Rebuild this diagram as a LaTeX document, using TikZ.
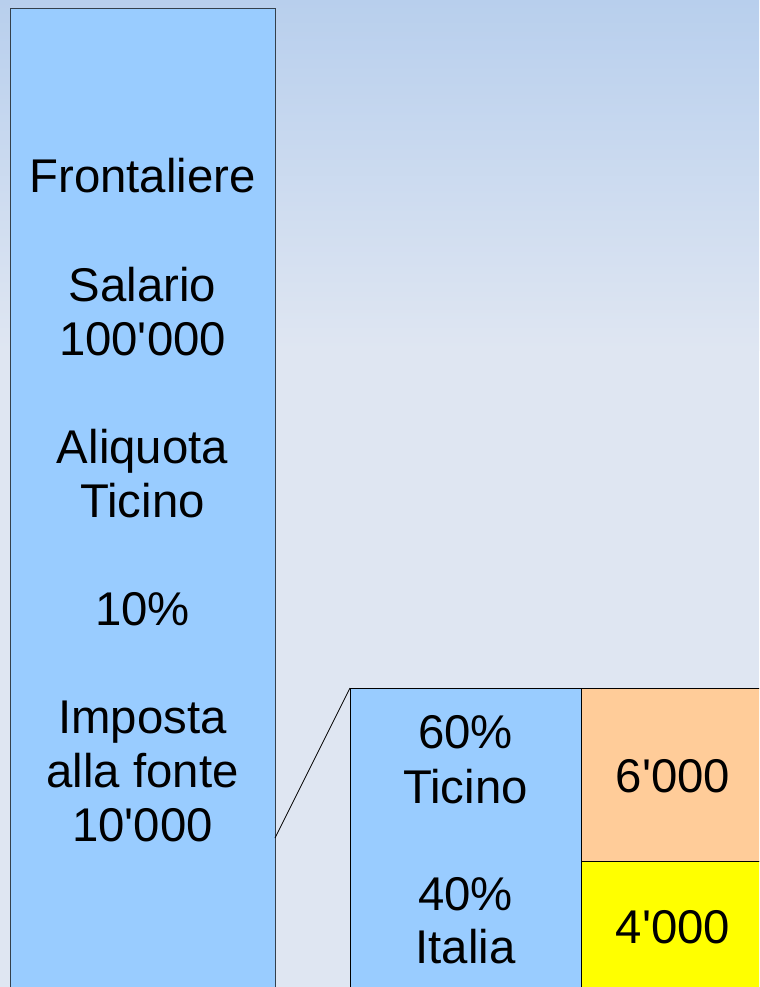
\documentclass[tikz,border=0pt]{standalone}
\usepackage{fontspec}
\setmainfont{Liberation Sans}[Ligatures=TeXOff]
\usetikzlibrary{positioning}
\definecolor{bgtop}{HTML}{B8CFED}
\definecolor{bgbot}{HTML}{DFE6F2}
\definecolor{boxblue}{HTML}{99CCFF}
\definecolor{boxorange}{HTML}{FFCC99}
\definecolor{boxyellow}{HTML}{FFFF00}
\definecolor{edgegray}{HTML}{34404C}
\tikzset{
  cell/.style={draw=black, line width=0.6pt, inner sep=0pt, anchor=north west},
  txt/.style={anchor=base, inner sep=0pt, font=\fontsize{35.5}{40.5}\selectfont}
}

\begin{document}
\begin{tikzpicture}[x=0.75pt, y=-0.75pt]
                % frame and background
                \useasboundingbox (0,0) rectangle (759,987);
                \clip (0,0) rectangle (759,987);
                \shade[top color=bgtop, bottom color=bgbot] (0,0) rectangle (759,350);
                \fill[bgbot] (0,350) rectangle (759,987);

                % Frontaliere column
                \node[cell, draw=edgegray, fill=boxblue, minimum width=198.75pt, minimum height=760pt] (front) at (10,8) {};
                \foreach \txt/\k in {Frontaliere/0, Salario/2, 100'000/3, Aliquota/5, Ticino/6, 10\%/8, Imposta/10, alla fonte/11, 10'000/12} {
                    \node[txt] at (142.5,193+54*\k) {\txt};
                }
                \coordinate (fonte) at (275,838);

                % split of the tax
                \node[cell, fill=boxblue, minimum width=173.25pt, minimum height=240pt] (quota) at (350,688) {};
                \node[cell, fill=boxorange, minimum width=141.75pt, minimum height=129.75pt] (ticino) at (581,688) {};
                \node[cell, fill=boxyellow, minimum width=141.75pt, minimum height=120pt] (italia) at (581,861) {};

                \node[txt] (q60) at (465.5,748) {60\%};
                \node[txt] (qti) at (465.5,803) {Ticino};
                \node[txt] (q40) at (465.5,910) {40\%};
                \node[txt] (qit) at (465.5,963) {Italia};
                \node[txt] (vti) at (673,792) {6'000};
                \node[txt] (vit) at (673,943) {4'000};

                % link
                \draw[line width=0.6pt] (fonte) -- (quota.north west);
            \end{tikzpicture}
\end{document}
